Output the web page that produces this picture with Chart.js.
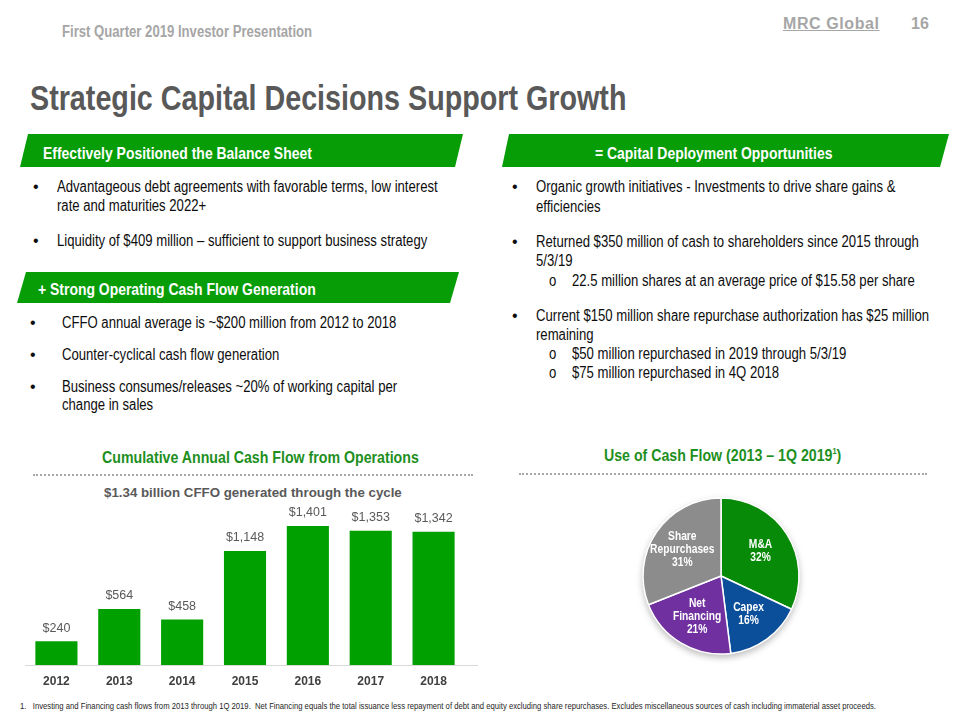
<!DOCTYPE html>
<html>
<head>
<meta charset="utf-8">
<script src="https://cdn.jsdelivr.net/npm/chart.js@4.4.1/dist/chart.umd.min.js"></script>
<style>
  body { margin: 0; background: #fff; }
  #slide { position: relative; width: 960px; height: 720px; overflow: hidden; background: #fff;
           font-family: "Liberation Sans", Arial, sans-serif; }
  .t { position: absolute; white-space: nowrap; line-height: 1; }
  .n { transform: scaleX(0.82); transform-origin: 0 0; }
  .banner { position: absolute; background: #079d07; }
  .bt { position: absolute; color: #fff; font-weight: bold; font-size: 17px; white-space: nowrap; line-height: 1; }
  .bul { position: absolute; font-size: 16px; color: #0d0d0d; white-space: nowrap; line-height: 1; }
  .dots { position: absolute; height: 0; border-top: 2px dotted #a6a6a6; }
  .ctitle { position: absolute; color: #1e8f1e; font-weight: bold; font-size: 17.3px; white-space: nowrap; line-height: 1; }
</style>
</head>
<body>
<div id="slide">
  <div class="t n" style="left:62px;top:24px;font-size:16px;font-weight:bold;color:#a6a6a6;">First Quarter 2019 Investor Presentation</div>
  <div class="t" style="left:783px;top:16px;font-size:16px;font-weight:bold;color:#a6a6a6;letter-spacing:0.6px;text-decoration:underline;">MRC Global</div>
  <div class="t" style="left:911px;top:16px;font-size:16px;font-weight:bold;color:#a6a6a6;">16</div>

  <div class="t n" style="left:30px;top:80px;font-size:35px;font-weight:bold;color:#595959;">Strategic Capital Decisions Support Growth</div>

  <div class="banner" style="left:20px;top:134px;width:443px;height:33px;clip-path:polygon(8px 0,443px 0,435px 100%,0 100%);"></div>
  <div class="bt n" style="left:43px;top:145px;">Effectively Positioned the Balance Sheet</div>

  <div class="banner" style="left:17px;top:272px;width:442px;height:31px;clip-path:polygon(9px 0,442px 0,433px 100%,0 100%);"></div>
  <div class="bt n" style="left:38px;top:281px;">+ Strong Operating Cash Flow Generation</div>

  <div class="banner" style="left:502px;top:134px;width:447px;height:33px;clip-path:polygon(7px 0,447px 0,438px 100%,0 100%);"></div>
  <div class="bt n" style="left:595px;top:145px;">= Capital Deployment Opportunities</div>

  <div class="bul" style="left:33px;top:179px;">•</div>
  <div class="bul n" style="left:57px;top:179px;">Advantageous debt agreements with favorable terms, low interest</div>
  <div class="bul n" style="left:57px;top:198px;">rate and maturities 2022+</div>
  <div class="bul" style="left:33px;top:233px;">•</div>
  <div class="bul n" style="left:57px;top:233px;">Liquidity of $409 million – sufficient to support business strategy</div>

  <div class="bul" style="left:30px;top:315px;">•</div>
  <div class="bul n" style="left:62px;top:315px;">CFFO annual average is ~$200 million from 2012 to 2018</div>
  <div class="bul" style="left:30px;top:347px;">•</div>
  <div class="bul n" style="left:62px;top:347px;">Counter-cyclical cash flow generation</div>
  <div class="bul" style="left:30px;top:379px;">•</div>
  <div class="bul n" style="left:62px;top:379px;">Business consumes/releases ~20% of working capital per</div>
  <div class="bul n" style="left:62px;top:397px;">change in sales</div>

  <div class="bul" style="left:512px;top:179px;">•</div>
  <div class="bul n" style="left:536px;top:179px;">Organic growth initiatives - Investments to drive share gains &amp;</div>
  <div class="bul n" style="left:536px;top:199px;">efficiencies</div>
  <div class="bul" style="left:512px;top:234px;">•</div>
  <div class="bul n" style="left:536px;top:234px;">Returned $350 million of cash to shareholders since 2015 through</div>
  <div class="bul n" style="left:536px;top:253px;">5/3/19</div>
  <div class="bul n" style="left:549px;top:273px;">o</div>
  <div class="bul n" style="left:572px;top:273px;">22.5 million shares at an average price of $15.58 per share</div>
  <div class="bul" style="left:512px;top:308px;">•</div>
  <div class="bul n" style="left:536px;top:308px;">Current $150 million share repurchase authorization has $25 million</div>
  <div class="bul n" style="left:536px;top:327px;">remaining</div>
  <div class="bul n" style="left:549px;top:346px;">o</div>
  <div class="bul n" style="left:572px;top:346px;">$50 million repurchased in 2019 through 5/3/19</div>
  <div class="bul n" style="left:549px;top:365px;">o</div>
  <div class="bul n" style="left:572px;top:365px;">$75 million repurchased in 4Q 2018</div>

  <div class="ctitle n" style="left:102px;top:449px;">Cumulative Annual Cash Flow from Operations</div>
  <div class="dots" style="left:33px;top:474px;width:440px;"></div>
  <div class="t" style="left:104px;top:486px;font-size:13.3px;font-weight:bold;color:#595959;">$1.34 billion CFFO generated through the cycle</div>

  <div class="ctitle n" style="left:604px;top:447px;">Use of Cash Flow (2013 – 1Q 2019<sup style="font-size:9px;">1</sup>)</div>
  <div class="dots" style="left:519px;top:473px;width:408px;"></div>

  <div style="position:absolute;left:25px;top:500px;width:440px;height:195px;">
    <canvas id="bar"></canvas>
  </div>
  <div style="position:absolute;left:25px;top:665px;width:453px;height:0;border-top:1px solid #d9d9d9;"></div>

  <div style="position:absolute;left:631px;top:486px;width:180px;height:180px;filter:drop-shadow(0 3px 3px rgba(0,0,0,0.25));">
    <canvas id="pie"></canvas>
  </div>

  <div class="t n" style="left:20px;top:701px;font-size:9.4px;color:#262626;">1.&nbsp;&nbsp; Investing and Financing cash flows from 2013 through 1Q 2019.&nbsp; Net Financing equals the total issuance less repayment of debt and equity excluding share repurchases. Excludes miscellaneous sources of cash including immaterial asset proceeds.</div>
</div>

<script>
var years = ['2012', '2013', '2014', '2015', '2016', '2017', '2018'];
var cffo = [240, 564, 458, 1148, 1401, 1353, 1342];
var barLabels = ['$240', '$564', '$458', '$1,148', '$1,401', '$1,353', '$1,342'];

var uses = ['M&A', 'Capex', 'Net Financing', 'Share Repurchases'];
var useShare = [32, 16, 21, 31];
var useLabels = [['M&A', '32%'], ['Capex', '16%'], ['Net', 'Financing', '21%'], ['Share', 'Repurchases', '31%']];
var useColors = ['#078a07', '#0b4f9b', '#7030a0', '#8c8c8c'];

Chart.defaults.animation = false;

// value labels above each bar
var barValueLabels = {
    id: 'barValueLabels',
    afterDatasetsDraw: function (chart) {
        var ctx = chart.ctx;
        var meta = chart.getDatasetMeta(0);
        ctx.save();
        ctx.font = '12.5px "Liberation Sans", Arial, sans-serif';
        ctx.fillStyle = '#595959';
        ctx.textAlign = 'center';
        ctx.textBaseline = 'middle';
        meta.data.forEach(function (bar, i) {
            ctx.fillText(barLabels[i], bar.x, bar.y - 13);
        });
        ctx.restore();
    }
};

new Chart(document.getElementById('bar').getContext('2d'), {
    type: 'bar',
    data: {
        labels: years,
        datasets: [{
            data: cffo,
            backgroundColor: '#00a000',
            categoryPercentage: 1,
            barPercentage: 0.67
        }]
    },
    options: {
        responsive: true,
        maintainAspectRatio: false,
        layout: { padding: 0 },
        plugins: { legend: { display: false }, tooltip: { enabled: false } },
        scales: {
            x: {
                grid: { display: false },
                border: { display: false },
                ticks: {
                    padding: 1,
                    color: '#404040',
                    font: { family: '"Liberation Sans", Arial, sans-serif', size: 12, weight: 'bold' }
                },
                afterFit: function (scale) { scale.height = 30; }
            },
            y: { display: false, min: 0, max: 1662 }
        }
    },
    plugins: [barValueLabels]
});

// white labels inside the slices, narrow, a bit further out than the midpoint
var pieLabels = {
    id: 'pieLabels',
    afterDatasetsDraw: function (chart) {
        var ctx = chart.ctx;
        var meta = chart.getDatasetMeta(0);
        ctx.save();
        ctx.font = 'bold 12.5px "Liberation Sans", Arial, sans-serif';
        ctx.fillStyle = '#ffffff';
        ctx.textAlign = 'center';
        ctx.textBaseline = 'middle';
        meta.data.forEach(function (arc, i) {
            var a = (arc.startAngle + arc.endAngle) / 2;
            var r = arc.outerRadius * 0.6;
            var px = arc.x + Math.cos(a) * r;
            var py = arc.y + Math.sin(a) * r;
            var lines = useLabels[i];
            var y0 = py - (lines.length - 1) * 13 / 2;
            lines.forEach(function (l, j) {
                ctx.save();
                ctx.translate(px, y0 + j * 13);
                ctx.scale(0.82, 1);
                ctx.fillText(l, 0, 0);
                ctx.restore();
            });
        });
        ctx.restore();
    }
};

new Chart(document.getElementById('pie').getContext('2d'), {
    type: 'pie',
    data: {
        labels: uses,
        datasets: [{
            data: useShare,
            backgroundColor: useColors,
            borderColor: '#ffffff',
            borderWidth: 1.5,
            hoverOffset: 0
        }]
    },
    options: {
        responsive: true,
        maintainAspectRatio: false,
        radius: 78,
        layout: { padding: 0 },
        plugins: { legend: { display: false }, tooltip: { enabled: false } }
    },
    plugins: [pieLabels]
});
</script>
</body>
</html>
